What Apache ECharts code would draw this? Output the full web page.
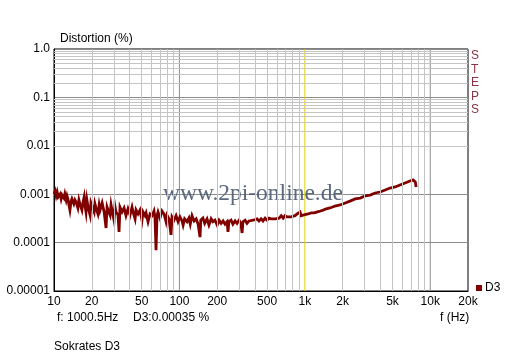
<!DOCTYPE html>
<html><head><meta charset="utf-8">
<script src="https://cdn.jsdelivr.net/npm/echarts@6/dist/echarts.min.js"></script>
<style>html,body{margin:0;padding:0;background:#fff}#c{width:512px;height:358px}</style>
</head><body><div id="c"></div>
<script>
const seriesName = 'D3';
const freqHz = [10,10.2,10.4,10.6,10.8,11.2,11.4,11.6,12.0,12.2,12.5,12.7,12.9,13.4,13.7,13.9,14.4,14.7,15.0,15.5,15.8,16.1,16.7,17.0,17.4,17.7,18.0,18.3,18.7,19.4,19.7,20.1,20.9,21.2,21.6,22.4,22.9,23.3,24.2,25.1,26.0,26.5,27.0,28.0,28.5,29.0,30.1,30.6,31.2,32.4,33.0,33.6,34.9,36.2,37.5,38.9,40.4,41.9,42.7,44.3,45.1,46.8,48.5,50.3,51.3,53.2,54.2,56.2,58.3,60.5,62.7,63.9,65.1,66.3,67.5,70.0,72.6,75.4,78.2,79.6,82.6,85.7,87.3,90.5,94.0,97.5,101,105,107,110,115,119,122,126,131,136,141,146,148,154,159,166,172,179,185,192,200,207,215,223,231,240,244,248,258,267,278,288,299,310,316,321,334,346,359,372,387,401,416,431,448,464,482,500,518,538,558,580,601,624,648,672,695,722,749,777,806,835,868,899,915,932,967,1000,1061,1125,1190,1260,1333,1400,1480,1590,1740,1910,2100,2290,2520,2760,3030,3320,3630,3990,4370,4780,5250,5740,6300,6900,7290,7600,7710];
const distPct = [0.00101,0.00116,0.00092,0.00111,0.00088,0.00101,0.00080,0.00096,0.00083,0.00101,0.00076,0.00092,0.00080,0.00047,0.00072,0.00080,0.00063,0.00076,0.00069,0.00052,0.00076,0.00063,0.00047,0.00066,0.00088,0.00057,0.00043,0.00076,0.00054,0.00037,0.00066,0.00057,0.00043,0.00063,0.00052,0.00039,0.00060,0.00047,0.00066,0.00043,0.00020,0.00054,0.00047,0.00037,0.00060,0.00047,0.00029,0.00057,0.00043,0.00037,0.000166,0.00054,0.00043,0.00052,0.00036,0.00050,0.00037,0.00054,0.00043,0.00031,0.00047,0.00039,0.00047,0.00029,0.00043,0.00036,0.00041,0.00027,0.00039,0.00036,0.00045,0.00032,0.00007,0.00036,0.00043,0.00032,0.00045,0.00039,0.00027,0.00037,0.00031,0.000144,0.00034,0.00029,0.00036,0.00027,0.00034,0.00028,0.00023,0.00031,0.00027,0.00032,0.00024,0.00036,0.00028,0.00031,0.00024,0.00013,0.00029,0.00032,0.00025,0.00031,0.00023,0.00031,0.00027,0.00029,0.00023,0.00029,0.00025,0.00028,0.00024,0.00027,0.000166,0.00027,0.00029,0.00024,0.00028,0.00025,0.00029,0.00024,0.000158,0.00027,0.00029,0.00025,0.00028,0.00027,0.00029,0.00027,0.00031,0.00028,0.00031,0.00028,0.00032,0.00029,0.00032,0.00031,0.00034,0.00031,0.00034,0.00032,0.00036,0.00032,0.00036,0.00034,0.00037,0.00034,0.00037,0.00036,0.00039,0.00036,0.00043,0.00036,0.00037,0.00035,0.00039,0.00041,0.00041,0.00043,0.00045,0.00047,0.00050,0.00052,0.00057,0.00060,0.00066,0.00072,0.00080,0.00083,0.00092,0.00096,0.00106,0.00111,0.00122,0.00134,0.00141,0.00155,0.00170,0.00187,0.00197,0.00179,0.00141];
const xTickValues = [10,20,50,100,200,500,1000,2000,5000,10000,20000];
const xTickText = ['10','20','50','100','200','500','1k','2k','5k','10k','20k'];
const yTickExp = [0,-1,-2,-3,-4,-5];
const yTickText = ['1.0','0.1','0.01','0.001','0.0001','0.00001'];
const yRange = [0.00001, 1];
const xMajorGrid = [100,10000];
const cursorHz = 1000;
const xMinorGrid = [20,30,40,50,60,70,80,90,200,300,400,500,600,700,800,900,2000,3000,4000,5000,6000,7000,8000,9000];
const yMinorMult = [2,3,4,5,6,7,8,9];
const yDecades = [-5,-4,-3,-2,-1];

const FONT = 'Liberation Sans, Arial, sans-serif';
const yMinorGrid = [];
yDecades.forEach(e => yMinorMult.forEach(m => yMinorGrid.push(m * Math.pow(10, e))));

const vLine = (name, f, color, z) => ({
  name: name, type: 'line', silent: true, z: z, symbol: 'none', showSymbol: false,
  lineStyle: { color: color, width: 1 }, data: [[f, yRange[0]], [f, yRange[1]]]
});

const chart = echarts.init(document.getElementById('c'), null, { renderer: 'canvas' });
chart.setOption({
  animation: false,
  backgroundColor: '#ffffff',
  textStyle: { fontFamily: FONT },
  title: {
    text: 'Distortion (%)', left: 55, top: 28,
    textStyle: { fontSize: 12, fontWeight: 'normal', color: '#000', fontFamily: FONT }
  },
  grid: { left: 54, top: 49, right: 44, bottom: 67, show: true, borderColor: '#000', borderWidth: 1, backgroundColor: '#fff' },
  legend: {
    data: [seriesName], left: 471, top: 277, icon: 'rect', itemWidth: 6, itemHeight: 6, itemGap: 4,
    textStyle: { fontSize: 12, color: '#000', fontFamily: FONT, padding: [0,0,0,-2] }
  },
  xAxis: {
    type: 'log', logBase: 10, min: 10, max: 20000,
    axisLine: { show: true, onZero: false, lineStyle: { color: '#000', width: 1 } },
    axisTick: { show: false },
    splitLine: { show: false },
    axisLabel: {
      customValues: xTickValues, margin: 5, fontSize: 12, color: '#000', fontFamily: FONT,
      showMinLabel: true, showMaxLabel: true,
      formatter: v => { let best = 0; xTickValues.forEach((t, i) => { if (Math.abs(Math.log10(t) - Math.log10(v)) < Math.abs(Math.log10(xTickValues[best]) - Math.log10(v))) best = i; }); return xTickText[best]; }
    }
  },
  yAxis: {
    type: 'log', logBase: 10, min: yRange[0], max: yRange[1],
    axisLine: { show: true, onZero: false, lineStyle: { color: '#000', width: 1 } },
    axisTick: { show: false },
    splitLine: { show: true, lineStyle: { color: '#8c8c8c', width: 1 } },
    axisLabel: {
      margin: 4, fontSize: 12, color: '#000', fontFamily: FONT, showMinLabel: true, showMaxLabel: true,
      formatter: v => { const e = Math.round(Math.log10(v)); const i = yTickExp.indexOf(e); return i >= 0 ? yTickText[i] : ''; }
    }
  },
  graphic: [
    { type: 'text', left: 471, top: 49, z: 10, style: { text: 'S\nT\nE\nP\nS', fill: '#8a3444', font: '12px ' + FONT, lineHeight: 13.5 } },
    { type: 'text', x: 163, y: 194, z: 5, style: { text: 'www.2pi-online.de', fill: 'rgba(74,88,112,0.9)', font: '23.5px "Liberation Serif", "Times New Roman", serif', verticalAlign: 'middle' } },
    { type: 'text', x: 57, y: 318, style: { text: 'f: 1000.5Hz', fill: '#000', font: '12px ' + FONT, verticalAlign: 'middle' } },
    { type: 'text', x: 133, y: 318, style: { text: 'D3:0.00035 %', fill: '#000', font: '12px ' + FONT, verticalAlign: 'middle' } },
    { type: 'text', x: 440, y: 318, style: { text: 'f (Hz)', fill: '#000', font: '12px ' + FONT, verticalAlign: 'middle' } },
    { type: 'text', x: 54, y: 347, style: { text: 'Sokrates D3', fill: '#000', font: '12px ' + FONT, verticalAlign: 'middle' } }
  ],
  series: [
    {
      name: 'gridMinor', type: 'line', data: [], silent: true, z: 1,
      markLine: {
        silent: true, symbol: ['none', 'none'], label: { show: false }, emphasis: { disabled: true },
        lineStyle: { color: '#c4c4c4', width: 1, type: 'solid' }, animation: false,
        data: xMinorGrid.map(v => ({ xAxis: v })).concat(yMinorGrid.map(v => ({ yAxis: v })))
      }
    },
    vLine('major100', xMajorGrid[0], '#8c8c8c', 2),
    vLine('major10k', xMajorGrid[1], '#8c8c8c', 2),
    vLine('cursor', cursorHz, '#e0d400', 2),
    {
      name: seriesName, type: 'line', z: 3, symbol: 'none', showSymbol: false,
      color: '#800000',
      lineStyle: { color: '#800000', width: 2.8, join: 'miter' },
      data: freqHz.map((f, i) => [f, distPct[i]])
    }
  ]
});
</script></body></html>
